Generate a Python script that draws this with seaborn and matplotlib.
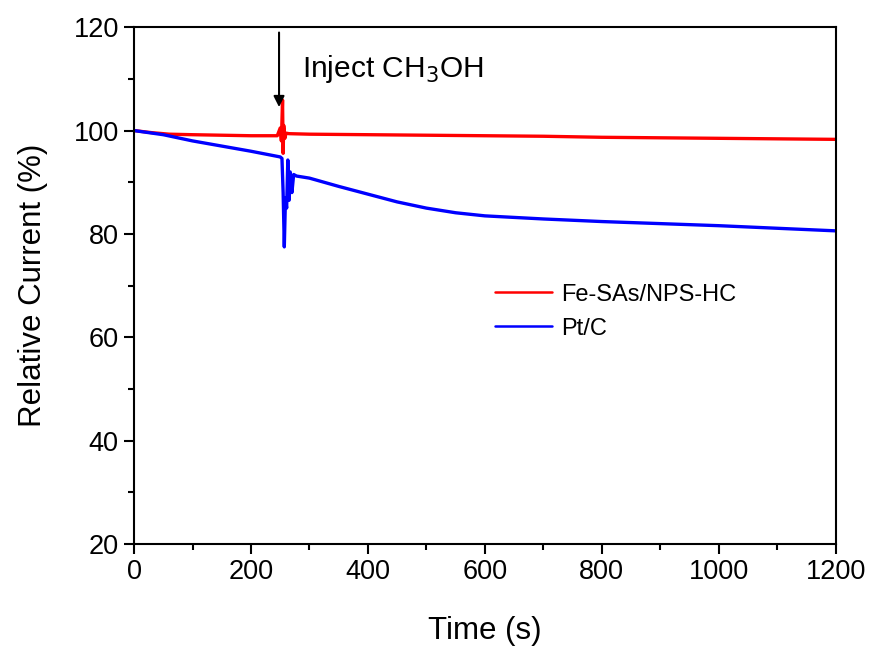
import matplotlib
matplotlib.use("Agg")
import matplotlib.pyplot as plt
import seaborn as sns
import pandas as pd
from matplotlib.ticker import MultipleLocator

# ---- data ----
fe_time = [0, 30, 60, 100, 150, 200, 245, 250, 252, 254, 255, 256, 258, 260, 265,
           300, 400, 500, 600, 700, 800, 900, 1000, 1100, 1200]
fe_current = [100.0, 99.6, 99.3, 99.2, 99.1, 99.0, 99.0, 100.5, 98.0, 105.9, 95.6, 101.0, 98.5, 99.5, 99.4,
              99.3, 99.2, 99.1, 99.0, 98.9, 98.7, 98.6, 98.5, 98.4, 98.3]

pt_time = [0, 50, 100, 150, 200, 250, 253, 255, 257, 259, 261, 263, 265, 267, 270, 273, 278,
           300, 350, 400, 450, 500, 550, 600, 650, 700, 760, 800, 900, 1000, 1100, 1200]
pt_current = [100.0, 99.2, 98.0, 97.0, 96.0, 94.9, 94.6, 88.0, 77.5, 87.0, 85.0, 94.3, 86.5, 92.0, 88.0, 91.5, 91.2,
              90.8, 89.2, 87.7, 86.2, 85.0, 84.1, 83.5, 83.2, 82.9, 82.6, 82.4, 82.0, 81.6, 81.1, 80.6]

series_names = ["Fe-SAs/NPS-HC", "Pt/C"]
series_colors = ["#ff0000", "#0000ff"]
x_ticks = [0, 200, 400, 600, 800, 1000, 1200]
y_ticks = [20, 40, 60, 80, 100, 120]

df = pd.concat([
    pd.DataFrame({"Time": fe_time, "Current": fe_current, "Sample": series_names[0]}),
    pd.DataFrame({"Time": pt_time, "Current": pt_current, "Sample": series_names[1]}),
], ignore_index=True)

sns.set_theme(style="ticks")
plt.rcParams["font.family"] = ["Liberation Sans", "DejaVu Sans"]
plt.rcParams["text.color"] = "black"
plt.rcParams["axes.labelcolor"] = "black"

fig = plt.figure(figsize=(8.76, 6.47), dpi=100)
ax = fig.add_axes([0.153, 0.159, 0.801, 0.799])

sns.lineplot(data=df, x="Time", y="Current", hue="Sample",
             palette=dict(zip(series_names, series_colors)),
             hue_order=series_names, linewidth=2.4, ax=ax, estimator=None,
             sort=False)

ax.set_xlim(0, 1200)
ax.set_ylim(20, 120)
ax.set_xticks(x_ticks)
ax.set_yticks(y_ticks)
ax.xaxis.set_minor_locator(MultipleLocator(100))
ax.yaxis.set_minor_locator(MultipleLocator(10))
ax.tick_params(axis="both", which="major", direction="out", length=7, width=1.5,
               labelsize=19.5, top=False, right=False, color="black", labelcolor="black", pad=4)
ax.tick_params(axis="both", which="minor", direction="out", length=4, width=1.5,
               top=False, right=False, color="black")
for s in ax.spines.values():
    s.set_visible(True)
    s.set_linewidth(1.5)
    s.set_color("black")

ax.set_xlabel("Time (s)", fontsize=22.5, labelpad=22, color="black")
ax.set_ylabel("Relative Current (%)", fontsize=22.5, labelpad=18, color="black")

leg = ax.legend(title=None, frameon=False, fontsize=17, loc="upper left",
                bbox_to_anchor=(0.501, 0.522), handlelength=2.4, handletextpad=0.4,
                labelspacing=0.5, borderaxespad=0)
for line in leg.get_lines():
    line.set_linewidth(1.8)
for t in leg.get_texts():
    t.set_color("black")

ax.annotate("", xy=(248, 104), xytext=(248, 119.5),
            arrowprops=dict(arrowstyle="-|>", color="black", lw=1.5, mutation_scale=16))
ax.text(288, 112, "Inject CH$_3$OH", fontsize=21.5, va="center", ha="left", color="black")

fig.savefig("out.png", dpi=100)
